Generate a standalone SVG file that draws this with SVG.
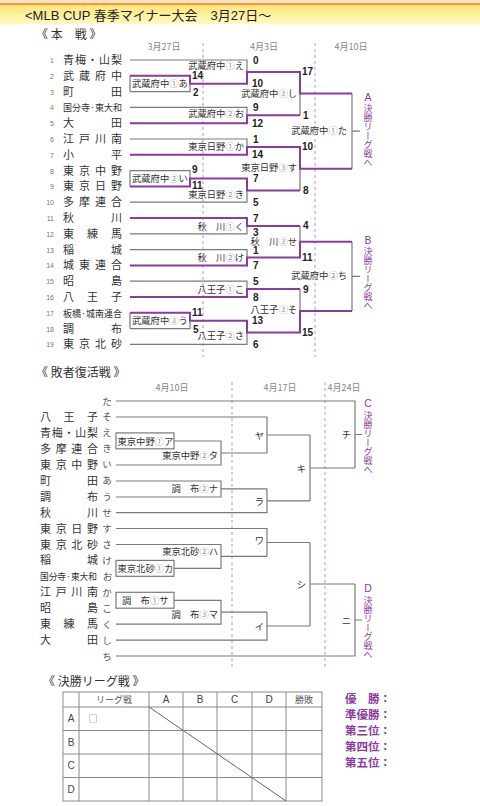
<svg xmlns="http://www.w3.org/2000/svg" width="480" height="806" viewBox="0 0 480 806">
<defs>
<linearGradient id="hdr" x1="0" y1="0" x2="0" y2="1">
<stop offset="0" stop-color="#ffe775"/>
<stop offset="1" stop-color="#fff9c8"/>
</linearGradient>
<style>
.g{stroke:#7a7a7a;stroke-width:1.2;fill:none}
.p{stroke:#8b3a9f;stroke-width:2;fill:none}
.d{stroke:#c78bd8;stroke-width:1;stroke-dasharray:3 3;fill:none}
.bx{stroke:#7a7a7a;stroke-width:1.2;fill:#fff}
.nm{font-family:"Noto Sans CJK JP",sans-serif;font-size:11px;fill:#333}
.nc{font-size:9.6px}
.no{font-family:"Liberation Sans",sans-serif;font-size:7px;fill:#777;text-anchor:end}
.kn{font-family:"Noto Sans CJK JP",sans-serif;font-size:9.5px;fill:#555;text-anchor:middle}
.lb{font-family:"Noto Sans CJK JP",sans-serif;font-size:9.3px;fill:#333}
.e{text-anchor:end}
.ci{fill:#9a9a9a}
.sc{font-family:"Liberation Sans",sans-serif;font-size:10px;font-weight:bold;fill:#222}
.dt{font-family:"Noto Sans CJK JP",sans-serif;font-size:9px;fill:#888;text-anchor:middle}
.hd{font-family:"Noto Sans CJK JP",sans-serif;font-size:12px;fill:#333}
.vt{font-family:"Noto Sans CJK JP",sans-serif;font-size:9px;fill:#8b3a9f;writing-mode:vertical-rl}
.vl{font-family:"Liberation Sans",sans-serif;font-size:10.5px;fill:#8b3a9f;text-anchor:middle}
.tb{stroke:#8a8a8a;stroke-width:1;fill:none}
.th{font-family:"Noto Sans CJK JP",sans-serif;font-size:9px;fill:#555;text-anchor:middle}
.tl{font-family:"Liberation Sans",sans-serif;font-size:10px;fill:#444;text-anchor:middle}
.rk{font-family:"Noto Sans CJK JP",sans-serif;font-size:11.5px;font-weight:bold;fill:#8b3a9f}
</style>
</defs>
<rect width="480" height="806" fill="#fff"/>
<!-- header -->
<g id="header">
<rect x="0" y="0" width="480" height="3" fill="#fde3c4"/>
<rect x="0" y="3" width="480" height="2.5" fill="#f39a3c"/>
<rect x="0" y="5.5" width="480" height="19" fill="url(#hdr)"/>
<text x="25" y="19.5" font-family="Liberation Sans,Noto Sans CJK JP,sans-serif" font-size="13" fill="#222">&lt;MLB CUP 春季マイナー大会　3月27日～</text>
</g>
<!-- main section headings -->
<g id="main-heads">
<text class="hd" x="36" y="39">《 本　戦 》</text>
<text class="dt" x="164" y="50">3月27日</text>
<text class="dt" x="264" y="50">4月3日</text>
<text class="dt" x="351" y="50">4月10日</text>
</g>
<g id="guides">
<line class="d" x1="203" y1="43" x2="203" y2="357"/>
<line class="d" x1="315" y1="43" x2="315" y2="357"/>
<line class="d" x1="232" y1="382" x2="232" y2="668"/>
<line class="d" x1="325" y1="382" x2="325" y2="668"/>
</g>
<!-- main teams -->
<g id="main-teams">
<g id="t1"><text class="no" x="54" y="63">1</text><text class="nm" x="63 75 87 99 111" y="64">青梅・山梨</text></g>
<g id="t2"><text class="no" x="54" y="78.8">2</text><text class="nm" x="63 79 95 111" y="79.8">武蔵府中</text></g>
<g id="t3"><text class="no" x="54" y="94.6">3</text><text class="nm" x="63 111" y="95.6">町田</text></g>
<g id="t4"><text class="no" x="54" y="110.4">4</text><text class="nm nc" x="63" y="111.2" textLength="59" lengthAdjust="spacingAndGlyphs">国分寺·東大和</text></g>
<g id="t5"><text class="no" x="54" y="126.2">5</text><text class="nm" x="63 111" y="127.2">大田</text></g>
<g id="t6"><text class="no" x="54" y="142">6</text><text class="nm" x="63 79 95 111" y="143">江戸川南</text></g>
<g id="t7"><text class="no" x="54" y="157.8">7</text><text class="nm" x="63 111" y="158.8">小平</text></g>
<g id="t8"><text class="no" x="54" y="173.6">8</text><text class="nm" x="63 79 95 111" y="174.6">東京中野</text></g>
<g id="t9"><text class="no" x="54" y="189.4">9</text><text class="nm" x="63 79 95 111" y="190.4">東京日野</text></g>
<g id="t10"><text class="no" x="54" y="205.2">10</text><text class="nm" x="63 79 95 111" y="206.2">多摩連合</text></g>
<g id="t11"><text class="no" x="54" y="221">11</text><text class="nm" x="63 111" y="222">秋川</text></g>
<g id="t12"><text class="no" x="54" y="236.8">12</text><text class="nm" x="63 87 111" y="237.8">東練馬</text></g>
<g id="t13"><text class="no" x="54" y="252.6">13</text><text class="nm" x="63 111" y="253.6">稲城</text></g>
<g id="t14"><text class="no" x="54" y="268.4">14</text><text class="nm" x="63 79 95 111" y="269.4">城東連合</text></g>
<g id="t15"><text class="no" x="54" y="284.2">15</text><text class="nm" x="63 111" y="285.2">昭島</text></g>
<g id="t16"><text class="no" x="54" y="300">16</text><text class="nm" x="63 87 111" y="301">八王子</text></g>
<g id="t17"><text class="no" x="54" y="315.8">17</text><text class="nm nc" x="63" y="316.6" textLength="59" lengthAdjust="spacingAndGlyphs">板橋·城南連合</text></g>
<g id="t18"><text class="no" x="54" y="331.6">18</text><text class="nm" x="63 111" y="332.6">調布</text></g>
<g id="t19"><text class="no" x="54" y="347.4">19</text><text class="nm" x="63 79 95 111" y="348.4">東京北砂</text></g>
</g>
<!-- main connectors -->
<g id="main-connectors">
<path class="g" d="M130 60H247V71.9M130 91.6H190V83.7M130 75.8V91.6M130 107.4H247V115.3M130 139H247V146.9M130 170.6H190V178.5M130 170.6V186.4M130 202.2H247V190.4M130 233.8H247V225.9M130 249.6H247V257.5M130 281.2H247V289.1M130 328.6H190V320.7M130 312.8V328.6M130 344.4H247V332.6"/>
<path class="g" d="M300 115.3V93.6M300 190.4V168.7M300 225.9V241.7M300 289.1V310.9"/>
<path class="g" d="M352 93.6V168.7M352 131.2H360M352 241.7V310.9M352 276.3H360"/>
<path class="p" d="M130 75.8H190V83.7H247V71.9H300V93.6H352"/>
<path class="p" d="M130 123.2H247V115.3H300"/>
<path class="p" d="M130 154.8H247V146.9H300V168.7H352"/>
<path class="p" d="M130 186.4H190V178.5H247V190.4H300"/>
<path class="p" d="M130 218H247V225.9H300"/>
<path class="p" d="M130 265.4H247V257.5H300V241.7H352"/>
<path class="p" d="M130 297H247V289.1H300"/>
<path class="p" d="M130 312.8H190V320.7H247V332.6H300V310.9H352"/>
</g>
<!-- main match labels -->
<g id="main-matches">
<g id="m-a"><text class="lb" x="132" y="87">武蔵府中<tspan class="ci">①</tspan>あ</text><text class="sc" x="192" y="79">14</text><text class="sc" x="193" y="96">2</text></g>
<g id="m-i"><text class="lb" x="132" y="181.5">武蔵府中<tspan class="ci">②</tspan>い</text><text class="sc" x="192" y="173">9</text><text class="sc" x="192" y="188.8">11</text></g>
<g id="m-u"><text class="lb" x="132" y="324">武蔵府中<tspan class="ci">③</tspan>う</text><text class="sc" x="192" y="315.5">11</text><text class="sc" x="193" y="332.5">5</text></g>
<g id="m-e"><text class="lb e" x="244" y="69.3">武蔵府中<tspan class="ci">①</tspan>え</text><text class="sc" x="253" y="63.5">0</text><text class="sc" x="252" y="87.2">10</text></g>
<g id="m-o"><text class="lb e" x="244" y="117">武蔵府中<tspan class="ci">②</tspan>お</text><text class="sc" x="253" y="110.9">9</text><text class="sc" x="252" y="126.7">12</text></g>
<g id="m-ka"><text class="lb e" x="244" y="150">東京日野<tspan class="ci">①</tspan>か</text><text class="sc" x="253" y="142.5">1</text><text class="sc" x="252" y="158.3">14</text></g>
<g id="m-ki"><text class="lb e" x="244" y="198.3">東京日野<tspan class="ci">②</tspan>き</text><text class="sc" x="253" y="182">7</text><text class="sc" x="253" y="205.9">5</text></g>
<g id="m-ku"><text class="lb e" x="244" y="229.5">秋　川<tspan class="ci">①</tspan>く</text><text class="sc" x="253" y="221.5">7</text><text class="sc" x="253" y="236.2">3</text></g>
<g id="m-ke"><text class="lb e" x="244" y="260.5">秋　川<tspan class="ci">②</tspan>け</text><text class="sc" x="253" y="253.8">1</text><text class="sc" x="253" y="268.9">7</text></g>
<g id="m-ko"><text class="lb e" x="244" y="292.5">八王子<tspan class="ci">①</tspan>こ</text><text class="sc" x="253" y="284.7">5</text><text class="sc" x="253" y="300.5">8</text></g>
<g id="m-sa"><text class="lb e" x="244" y="339">八王子<tspan class="ci">②</tspan>さ</text><text class="sc" x="252" y="324.2">13</text><text class="sc" x="253" y="348.4">6</text></g>
<g id="m-shi"><text class="lb e" x="297" y="97">武蔵府中<tspan class="ci">③</tspan>し</text><text class="sc" x="302" y="75.4">17</text><text class="sc" x="303" y="118.8">1</text></g>
<g id="m-su"><text class="lb e" x="297" y="171">東京日野<tspan class="ci">③</tspan>す</text><text class="sc" x="302" y="150.4">10</text><text class="sc" x="303" y="193.9">8</text></g>
<g id="m-se"><text class="lb e" x="297" y="245.3">秋　川<tspan class="ci">③</tspan>せ</text><text class="sc" x="303" y="229.4">4</text><text class="sc" x="302" y="261">11</text></g>
<g id="m-so"><text class="lb e" x="297" y="313">八王子<tspan class="ci">③</tspan>そ</text><text class="sc" x="303" y="292.6">9</text><text class="sc" x="302" y="336.1">15</text></g>
<g id="m-ta"><text class="lb e" x="347" y="134">武蔵府中<tspan class="ci">①</tspan>た</text></g>
<g id="m-chi"><text class="lb e" x="347" y="278.5">武蔵府中<tspan class="ci">②</tspan>ち</text></g>
<g id="to-A"><text class="vl" x="368" y="101">A</text><text class="vt" x="368" y="104">決勝リーグ戦へ</text></g>
<g id="to-B"><text class="vl" x="368" y="244">B</text><text class="vt" x="368" y="247">決勝リーグ戦へ</text></g>
</g>
<!-- repechage -->
<g id="rep-heads">
<text class="hd" x="36" y="377">《 敗者復活戦 》</text>
<text class="dt" x="172" y="391">4月10日</text>
<text class="dt" x="280" y="391">4月17日</text>
<text class="dt" x="344" y="391">4月24日</text>
</g>
<g id="rep-teams">
<g id="r-ta"><text class="kn" x="107" y="404.5">た</text></g>
<g id="r-so"><text class="nm" x="40 63.5 87" y="421">八王子</text><text class="kn" x="107" y="420.4">そ</text></g>
<g id="r-e"><text class="nm" x="40 51.75 63.5 75.25 87" y="437">青梅・山梨</text><text class="kn" x="107" y="436.4">え</text></g>
<g id="r-ki"><text class="nm" x="40 55.7 71.3 87" y="452.8">多摩連合</text><text class="kn" x="107" y="452.3">き</text></g>
<g id="r-i"><text class="nm" x="40 55.7 71.3 87" y="468.8">東京中野</text><text class="kn" x="107" y="468.3">い</text></g>
<g id="r-a"><text class="nm" x="40 87" y="484.7">町田</text><text class="kn" x="107" y="484.2">あ</text></g>
<g id="r-u"><text class="nm" x="40 87" y="500.6">調布</text><text class="kn" x="107" y="500.1">う</text></g>
<g id="r-se"><text class="nm" x="40 87" y="516.6">秋川</text><text class="kn" x="107" y="516.1">せ</text></g>
<g id="r-su"><text class="nm" x="40 55.7 71.3 87" y="532.5">東京日野</text><text class="kn" x="107" y="532">す</text></g>
<g id="r-sa"><text class="nm" x="40 55.7 71.3 87" y="548.5">東京北砂</text><text class="kn" x="107" y="548">さ</text></g>
<g id="r-ke"><text class="nm" x="40 87" y="564.4">稲城</text><text class="kn" x="107" y="563.9">け</text></g>
<g id="r-o"><text class="nm nc" x="40" y="580.1" textLength="57" lengthAdjust="spacingAndGlyphs">国分寺·東大和</text><text class="kn" x="107.5" y="579.8">お</text></g>
<g id="r-ka"><text class="nm" x="40 55.7 71.3 87" y="596.3">江戸川南</text><text class="kn" x="107" y="595.8">か</text></g>
<g id="r-ko"><text class="nm" x="40 87" y="612.2">昭島</text><text class="kn" x="107" y="611.7">こ</text></g>
<g id="r-ku"><text class="nm" x="40 63.5 87" y="628.2">東練馬</text><text class="kn" x="107" y="627.7">く</text></g>
<g id="r-shi"><text class="nm" x="40 87" y="644.1">大田</text><text class="kn" x="107" y="643.6">し</text></g>
<g id="r-chi"><text class="kn" x="107" y="659.5">ち</text></g>
</g>
<g id="rep-connectors">
<path class="g" d="M116 401H355V468M116 417H267V453M174 441H221V465H116M221 453H267M267 435H310M116 481H221V497H116M221 488.8H267M116 512.6H267V488.8M267 500.8H310M310 435V500.8M310 468H355M355 434.5H362"/>
<path class="g" d="M116 528.5H267V556.4M116 544.5H221V568.4H174M221 556.4H267M267 542.5H310M174 600.3H221V624.2H116M221 612.2H267M116 640.1H267V612.2M267 626H310M310 542.5V626M310 584H355M116 656H355V584M355 620H362"/>
<rect class="bx" x="116" y="432.9" width="58" height="15.9"/>
<rect class="bx" x="116" y="560.4" width="58" height="15.9"/>
<rect class="bx" x="116" y="592.3" width="58" height="15.9"/>
</g>
<g id="rep-matches">
<g id="m-A"><text class="lb" x="117.5" y="444.5">東京中野<tspan class="ci">①</tspan>ア</text></g>
<g id="m-Ta"><text class="lb e" x="218" y="459">東京中野<tspan class="ci">②</tspan>タ</text></g>
<g id="m-Na"><text class="lb e" x="218" y="492">調　布<tspan class="ci">②</tspan>ナ</text></g>
<g id="m-Ka"><text class="lb" x="117.5" y="571.8">東京北砂<tspan class="ci">①</tspan>カ</text></g>
<g id="m-Ha"><text class="lb e" x="218" y="555">東京北砂<tspan class="ci">②</tspan>ハ</text></g>
<g id="m-Sa"><text class="lb" x="122" y="603.7">調　布<tspan class="ci">①</tspan>サ</text></g>
<g id="m-Ma"><text class="lb e" x="218" y="618">調　布<tspan class="ci">③</tspan>マ</text></g>
<g id="m-Ya"><text class="lb e" x="264" y="438.5">ヤ</text></g>
<g id="m-Ra"><text class="lb e" x="264" y="504.5">ラ</text></g>
<g id="m-Ki"><text class="lb e" x="306" y="471.5">キ</text></g>
<g id="m-Chi"><text class="lb e" x="351" y="438">チ</text></g>
<g id="m-Wa"><text class="lb e" x="264" y="544">ワ</text></g>
<g id="m-I"><text class="lb e" x="264" y="629.5">イ</text></g>
<g id="m-Shi"><text class="lb e" x="306" y="588">シ</text></g>
<g id="m-Ni"><text class="lb e" x="351" y="624">ニ</text></g>
<g id="to-C"><text class="vl" x="368" y="407">C</text><text class="vt" x="368" y="411">決勝リーグ戦へ</text></g>
<g id="to-D"><text class="vl" x="368" y="592">D</text><text class="vt" x="368" y="596">決勝リーグ戦へ</text></g>
</g>
<!-- league table -->
<g id="league">
<text class="hd" x="43" y="686" font-size="11.5">《 決勝リーグ戦 》</text>
<rect class="tb" x="63" y="692" width="259" height="109" stroke-width="1.3"/>
<path class="tb" d="M79 692V801M149 692V801M183 692V801M217 692V801M252 692V801M286 692V801M63 707H322M63 730.5H322M63 754H322M63 777.5H322"/>
<line x1="149" y1="707" x2="286" y2="801" stroke="#666" stroke-width="1"/>
<text class="th" x="114" y="702.5">リーグ戦</text>
<text class="tl" x="166" y="703">A</text>
<text class="tl" x="200" y="703">B</text>
<text class="tl" x="234.5" y="703">C</text>
<text class="tl" x="269" y="703">D</text>
<text class="th" x="304" y="702.5">勝敗</text>
<text class="tl" x="71" y="722.3">A</text>
<text class="tl" x="71" y="745.8">B</text>
<text class="tl" x="71" y="769.3">C</text>
<text class="tl" x="71" y="792.8">D</text>
<text class="th" x="93" y="722" font-size="11" fill="#888">□</text>
</g>
<g id="ranking">
<text class="rk" x="345" y="703">優　勝：</text>
<text class="rk" x="345" y="718.5">準優勝：</text>
<text class="rk" x="345" y="735">第三位：</text>
<text class="rk" x="345" y="751">第四位：</text>
<text class="rk" x="345" y="767">第五位：</text>
</g>
</svg>
